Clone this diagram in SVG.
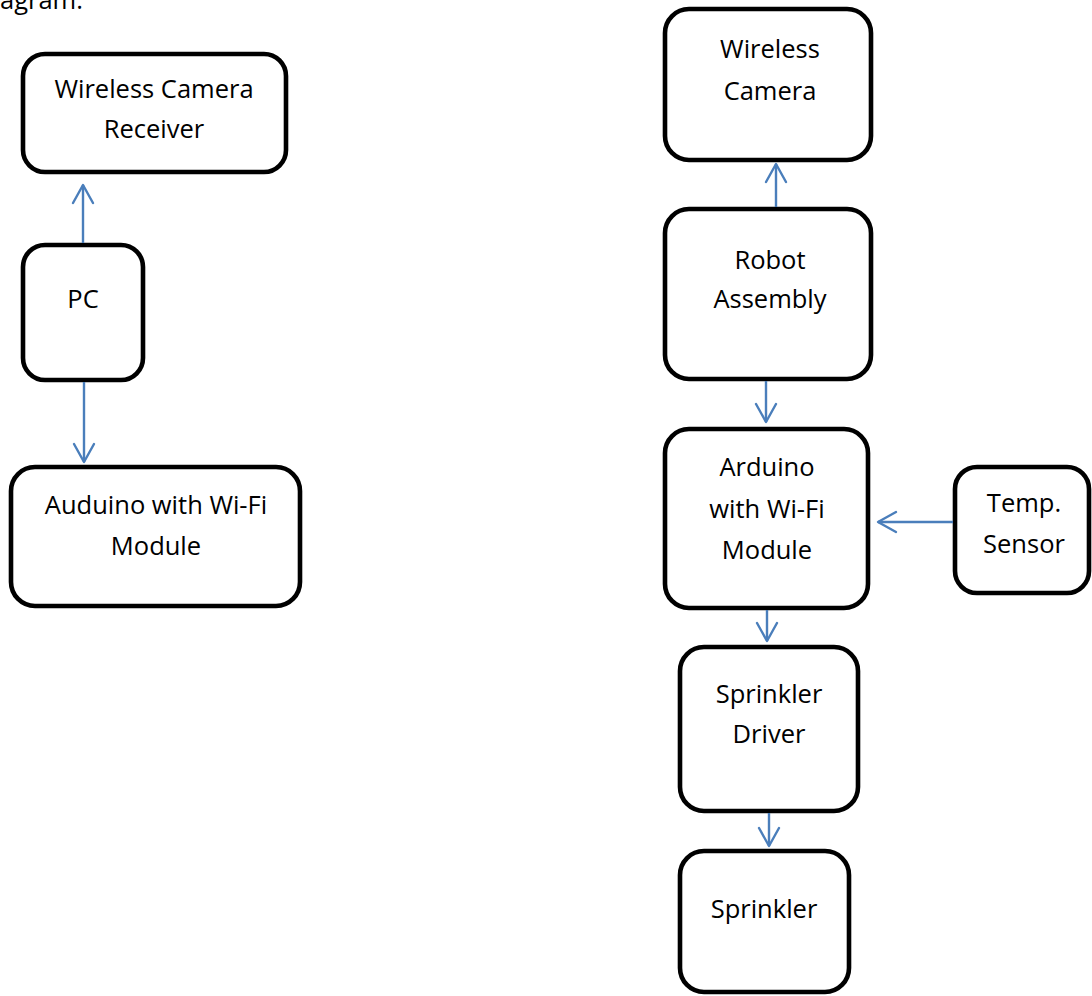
<svg xmlns="http://www.w3.org/2000/svg" width="1092" height="996" viewBox="0 0 1092 996">
<style>
.box{fill:#fff;stroke:#000;stroke-width:4.6}
.t{font-family:"Open Sans","Liberation Sans",sans-serif;font-size:25.5px;fill:#000;text-anchor:middle}
.c{stroke:#4a7ebb;stroke-width:2.4;fill:none}
.h{stroke:#4a7ebb;stroke-width:2.4;fill:none;stroke-linecap:round;stroke-linejoin:round}
</style>
<rect width="1092" height="996" fill="#fff"/>
<text x="0" y="9" style="font-family:'Open Sans','Liberation Sans',sans-serif;font-size:25.5px">agram:</text>
<g id="receiver"><rect class="box" x="23" y="54" width="263" height="118" rx="22"/><text class="t" x="154" y="98">Wireless Camera</text><text class="t" x="154" y="138">Receiver</text></g>
<g id="pc"><rect class="box" x="23" y="245" width="120" height="135" rx="22"/><text class="t" x="83" y="308">PC</text></g>
<g id="auduino"><rect class="box" x="11" y="467" width="289" height="139" rx="24"/><text class="t" x="156" y="514">Auduino with Wi-Fi</text><text class="t" x="156" y="555">Module</text></g>
<g id="camera"><rect class="box" x="665" y="9" width="206" height="151" rx="24"/><text class="t" x="770" y="58">Wireless</text><text class="t" x="770" y="100">Camera</text></g>
<g id="robot"><rect class="box" x="665" y="209" width="206" height="170" rx="24"/><text class="t" x="770" y="269">Robot</text><text class="t" x="770" y="308">Assembly</text></g>
<g id="arduino"><rect class="box" x="665" y="429" width="203" height="179" rx="24"/><text class="t" x="767" y="476">Arduino</text><text class="t" x="767" y="518">with Wi-Fi</text><text class="t" x="767" y="559">Module</text></g>
<g id="temp"><rect class="box" x="955" y="467" width="134" height="126" rx="22"/><text class="t" x="1024" y="512">Temp.</text><text class="t" x="1024" y="553">Sensor</text></g>
<g id="driver"><rect class="box" x="680" y="647" width="178" height="164" rx="24"/><text class="t" x="769" y="703">Sprinkler</text><text class="t" x="769" y="743">Driver</text></g>
<g id="sprinkler"><rect class="box" x="680" y="851" width="169" height="141" rx="24"/><text class="t" x="764" y="918">Sprinkler</text></g>
<g id="connectors">
<line class="c" x1="83" y1="243" x2="83" y2="185"/><polyline class="h" points="73,203 83,185 93,203"/>
<line class="c" x1="84" y1="382" x2="84" y2="462"/><polyline class="h" points="74,444 84,462 94,444"/>
<line class="c" x1="776" y1="207" x2="776" y2="164"/><polyline class="h" points="766,182 776,164 786,182"/>
<line class="c" x1="766" y1="381" x2="766" y2="422"/><polyline class="h" points="756,404 766,422 776,404"/>
<line class="c" x1="953" y1="522" x2="878" y2="522"/><polyline class="h" points="896,512 878,522 896,532"/>
<line class="c" x1="767" y1="610" x2="767" y2="641"/><polyline class="h" points="757,623 767,641 777,623"/>
<line class="c" x1="769" y1="813" x2="769" y2="846"/><polyline class="h" points="759,828 769,846 779,828"/>
</g>
</svg>
